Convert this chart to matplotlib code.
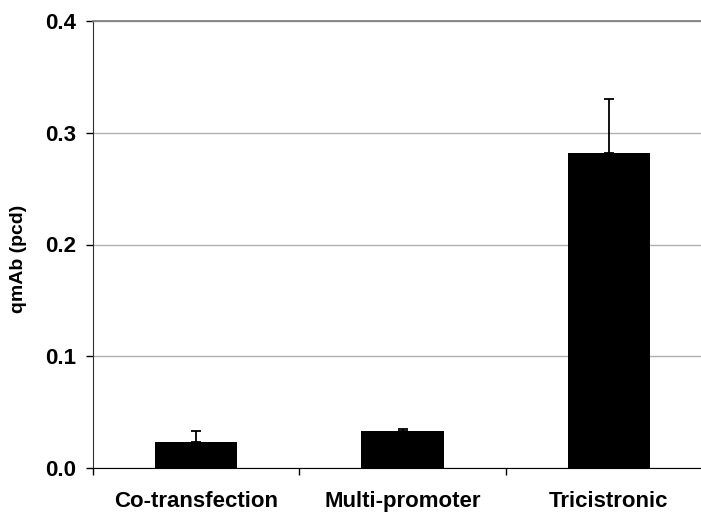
import numpy as np
import matplotlib.pyplot as plt

plt.rcParams['font.family'] = ['Liberation Sans', 'DejaVu Sans']
plt.rcParams['font.weight'] = 'bold'

constructs = ["Co-transfection", "Multi-promoter", "Tricistronic"]
qmab = [0.0232, 0.0334, 0.2815]
qmab_err = [0.0099, 0.0016, 0.0483]

fig = plt.figure(figsize=(7.01, 5.12), dpi=100)
ax = fig.add_axes([93 / 701, 43.7 / 512, 619 / 701, 447.6 / 512])

x = np.arange(len(constructs))
ax.bar(x, qmab, width=0.4, color="black", zorder=3)
ax.errorbar(x, qmab, yerr=[np.zeros(len(qmab)), qmab_err], fmt="none",
            ecolor="black", elinewidth=1.3, capsize=3.5, capthick=1.3, zorder=4)

ax.set_xlim(-0.5, 2.5)
ax.set_ylim(0, 0.4)
ax.set_yticks([0.0, 0.1, 0.2, 0.3, 0.4])
ax.set_yticklabels(["0.0", "0.1", "0.2", "0.3", "0.4"])
ax.yaxis.grid(True, color="#b0b0b0", linewidth=1.0, zorder=0)
ax.set_axisbelow(True)

ax.set_xticks(x)
ax.set_xticklabels(constructs)
ax.set_xticks([-0.5, 0.5, 1.5], minor=True)
ax.tick_params(axis="x", which="major", length=0, pad=16, labelsize=16)
ax.tick_params(axis="x", which="minor", length=5, width=1, direction="out")
ax.tick_params(axis="y", length=5, width=1, pad=7, labelsize=16)

ax.set_ylabel("qmAb (pcd)", fontsize=14, fontweight="bold")
ax.yaxis.set_label_coords(-0.107, 0.468)

ax.spines["right"].set_visible(False)
ax.spines["top"].set_color("#808080")
ax.spines["top"].set_linewidth(1.3)
ax.spines["left"].set_color("#303030")
ax.spines["bottom"].set_color("black")

fig.savefig("out.png", dpi=100)
